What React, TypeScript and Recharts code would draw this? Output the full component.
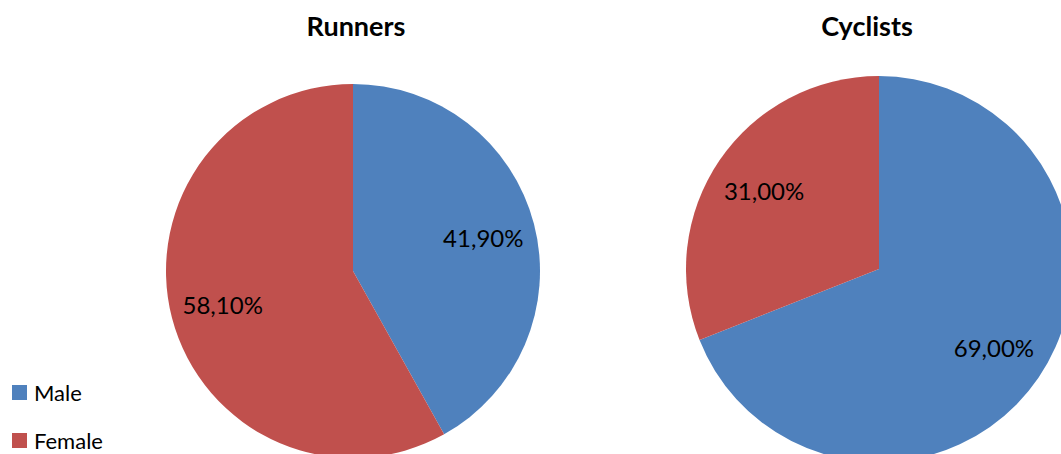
import React from 'react';
import { PieChart, Pie, Cell } from 'recharts';

const categories = ['Male', 'Female'];
const runnersValues = [41.9, 58.1];
const cyclistsValues = [69.0, 31.0];
const chartTitles = ['Runners', 'Cyclists'];
const sliceColors = ['#4F81BD', '#C0504D'];

const FONT = 'Lato, "Open Sans", sans-serif';

const runnersData = categories.map((name, i) => ({ name, value: runnersValues[i] }));
const cyclistsData = categories.map((name, i) => ({ name, value: cyclistsValues[i] }));

const RAD = Math.PI / 180;

// value labels sit inside the slice at ~72% of the radius
const renderLabel = (props: any) => {
  const { cx, cy, midAngle, outerRadius, value } = props;
  const r = outerRadius * 0.72;
  const x = cx + r * Math.cos(-midAngle * RAD);
  const y = cy + r * Math.sin(-midAngle * RAD);
  return (
    <text x={x} y={y} fill="#000" textAnchor="middle" dominantBaseline="central" fontSize={24} fontFamily={FONT}>
      {value.toFixed(2).replace('.', ',') + '%'}
    </text>
  );
};

const titleStyle: React.CSSProperties = {
  position: 'absolute',
  top: 9,
  width: 200,
  textAlign: 'center',
  fontFamily: FONT,
  fontWeight: 'bold',
  fontSize: 27,
  color: '#000',
};

export default function App() {
  return (
    <div style={{ position: 'absolute', left: 0, top: 0, width: 1061, height: 454, overflow: 'hidden', background: '#fff' }}>
      <div style={{ ...titleStyle, left: 256 }}>{chartTitles[0]}</div>
      <div style={{ ...titleStyle, left: 767 }}>{chartTitles[1]}</div>
      <PieChart width={1061} height={454} margin={{ top: 0, right: 0, bottom: 0, left: 0 }}>
        <Pie
          data={runnersData}
          dataKey="value"
          nameKey="name"
          cx={353}
          cy={271}
          outerRadius={187}
          startAngle={90}
          endAngle={-270}
          stroke="none"
          label={renderLabel}
          labelLine={false}
          isAnimationActive={false}
        >
          {runnersData.map((d, i) => (
            <Cell key={d.name} fill={sliceColors[i]} />
          ))}
        </Pie>
        <Pie
          data={cyclistsData}
          dataKey="value"
          nameKey="name"
          cx={879}
          cy={269}
          outerRadius={193}
          startAngle={90}
          endAngle={-270}
          stroke="none"
          label={renderLabel}
          labelLine={false}
          isAnimationActive={false}
        >
          {cyclistsData.map((d, i) => (
            <Cell key={d.name} fill={sliceColors[i]} />
          ))}
        </Pie>
      </PieChart>
      {/* legend */}
      <div style={{ position: 'absolute', left: 12, top: 368, fontFamily: FONT, fontSize: 22, color: '#000' }}>
        {categories.map((c, i) => (
          <div key={c} style={{ display: 'flex', alignItems: 'center', height: 48 }}>
            <span style={{ display: 'inline-block', width: 15, height: 15, background: sliceColors[i], marginRight: 7 }} />
            <span>{c}</span>
          </div>
        ))}
      </div>
    </div>
  );
}
